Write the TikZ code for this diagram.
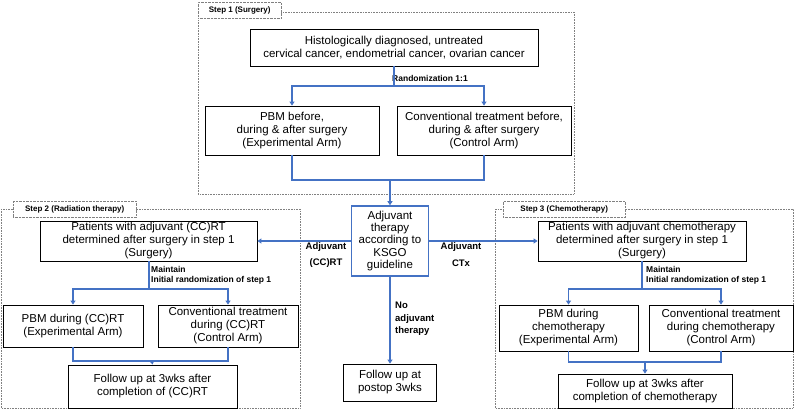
\documentclass[tikz,border=0pt]{standalone}
\usepackage{fontspec}
\setmainfont{Liberation Sans}
\usepackage{tikz}
\usetikzlibrary{arrows.meta}
\usepackage{xcolor}
\definecolor{flowblue}{RGB}{68,114,196}

\begin{document}
\begin{tikzpicture}[x=1pt,y=1pt,yscale=-1,xscale=1,
  box/.style={draw,line width=0.9pt,align=center,inner sep=1pt,font=\fontsize{11.5}{13}\selectfont},
  adjbox/.style={draw=flowblue,line width=1.6pt,align=center,inner sep=1pt,font=\fontsize{11.5}{12.3}\selectfont},
  frame/.style={draw=gray,densely dotted,line width=0.6pt},
  steplbl/.style={draw=gray,densely dotted,fill=white,font=\bfseries\fontsize{8}{9}\selectfont,inner sep=0pt,minimum height=16pt},
  lbl/.style={font=\bfseries\fontsize{8.5}{10}\selectfont,align=left,inner sep=0pt},
  biglbl/.style={font=\bfseries\fontsize{9.5}{12.5}\selectfont,align=left,inner sep=0pt},
  flow/.style={draw=flowblue,line width=1.4pt},
  flowarr/.style={flow,-{Triangle[length=4pt,width=5pt]}}]
\useasboundingbox (0,0) rectangle (796,410);

%Frames (dotted)
\draw[frame] (198,12) rectangle (574,194);
\draw[frame] (1,209) rectangle (300,408);
\draw[frame] (495,209) rectangle (793,408);
\node[steplbl,anchor=north west,minimum width=83pt] (s1) at (198,2) {Step 1 (Surgery)};
\node[steplbl,anchor=north west,minimum width=123pt] (s2) at (13,201) {Step 2 (Radiation therapy)};
\node[steplbl,anchor=north west,minimum width=122pt] (s3) at (503,201) {Step 3 (Chemotherapy)};

% Step 1
\node[box,minimum width=288pt,minimum height=37pt] (main) at (394,47.5) {Histologically diagnosed, untreated\\cervical cancer, endometrial cancer, ovarian cancer};
\node[box,minimum width=174pt,minimum height=49pt] (pbmA) at (292,130.5) {PBM before,\\during \& after surgery\\(Experimental Arm)};
\node[box,minimum width=174pt,minimum height=49pt] (convA) at (484,130.5) {Conventional treatment before,\\during \& after surgery\\(Control Arm)};
\node[lbl,anchor=west] (rnd) at (392,78) {Randomization 1:1};

% centre
\node[adjbox,minimum width=77pt,minimum height=70pt] (adj) at (390,241) {Adjuvant\\therapy\\according to\\KSGO\\guideline};
\node[box,minimum width=93pt,minimum height=37pt] (post) at (390,382.5) {Follow up at\\postop 3wks};
\node[biglbl,anchor=north west] (noadj) at (395,302) {No\\adjuvant\\therapy};
\node[biglbl] (lrt1) at (326,247) {Adjuvant};
\node[biglbl] (lrt2) at (326,263) {(CC)RT};
\node[biglbl] (lct1) at (461,247) {Adjuvant};
\node[biglbl] (lct2) at (461,263) {CTx};

% Step 2
\node[box,minimum width=217pt,minimum height=40pt] (patB) at (148.5,241) {Patients with adjuvant (CC)RT\\determined after surgery in step 1\\(Surgery)};
\node[box,minimum width=140pt,minimum height=42pt] (pbmB) at (73,326) {PBM during (CC)RT\\(Experimental Arm)};
\node[box,minimum width=140pt,minimum height=42pt] (convB) at (228,326) {Conventional treatment\\during (CC)RT\\(Control Arm)};
\node[box,minimum width=169pt,minimum height=43pt] (folB) at (152.5,386.5) {Follow up at 3wks after\\completion of (CC)RT};
\node[lbl,anchor=west] (mtB) at (151,275) {Maintain\\Initial randomization of step 1};

% Step 3
\node[box,minimum width=208pt,minimum height=40pt] (patC) at (642,241) {Patients with adjuvant chemotherapy\\determined after surgery in step 1\\(Surgery)};
\node[box,minimum width=139pt,minimum height=46pt] (pbmC) at (568.5,328) {PBM during\\chemotherapy\\(Experimental Arm)};
\node[box,minimum width=144pt,minimum height=46pt] (convC) at (721,328) {Conventional treatment\\during chemotherapy\\(Control Arm)};
\node[box,minimum width=174pt,minimum height=34pt] (folC) at (645,391) {Follow up at 3wks after\\completion of chemotherapy};
\node[lbl,anchor=west] (mtC) at (646,275) {Maintain\\Initial randomization of step 1};

% Connectors
\coordinate (rA) at (394,86);
\coordinate (mA) at (390,180);
\draw[flow] (main.south) -- (rA);
\draw[flowarr] (rA) -| (pbmA.north);
\draw[flowarr] (rA) -| (convA.north);
\draw[flow] (pbmA.south) |- (mA) -| (convA.south);
\draw[flowarr] (mA) -- (adj.north);

\draw[flowarr] (adj.west) -- (patB.east);
\draw[flowarr] (adj.east) -- (patC.west);
\draw[flowarr] (adj.south) -- (post.north);

\coordinate (rB) at (149,289);
\coordinate (mB) at (152,361);
\draw[flow] (patB.south -| rB) -- (rB);
\draw[flowarr] (rB) -| (pbmB.north);
\draw[flowarr] (rB) -| (convB.north);
\draw[flow] (pbmB.south) |- (mB) -| (convB.south);
\draw[flowarr] (mB) -- (folB.north);

\coordinate (rC) at (642,289);
\coordinate (mC) at (645,362);
\draw[flow] (patC.south) -- (rC);
\draw[flowarr] (rC) -| (pbmC.north);
\draw[flowarr] (rC) -| (convC.north);
\draw[flow] (pbmC.south) |- (mC) -| (convC.south);
\draw[flowarr] (mC) -- (folC.north);

\end{tikzpicture}
\end{document}
